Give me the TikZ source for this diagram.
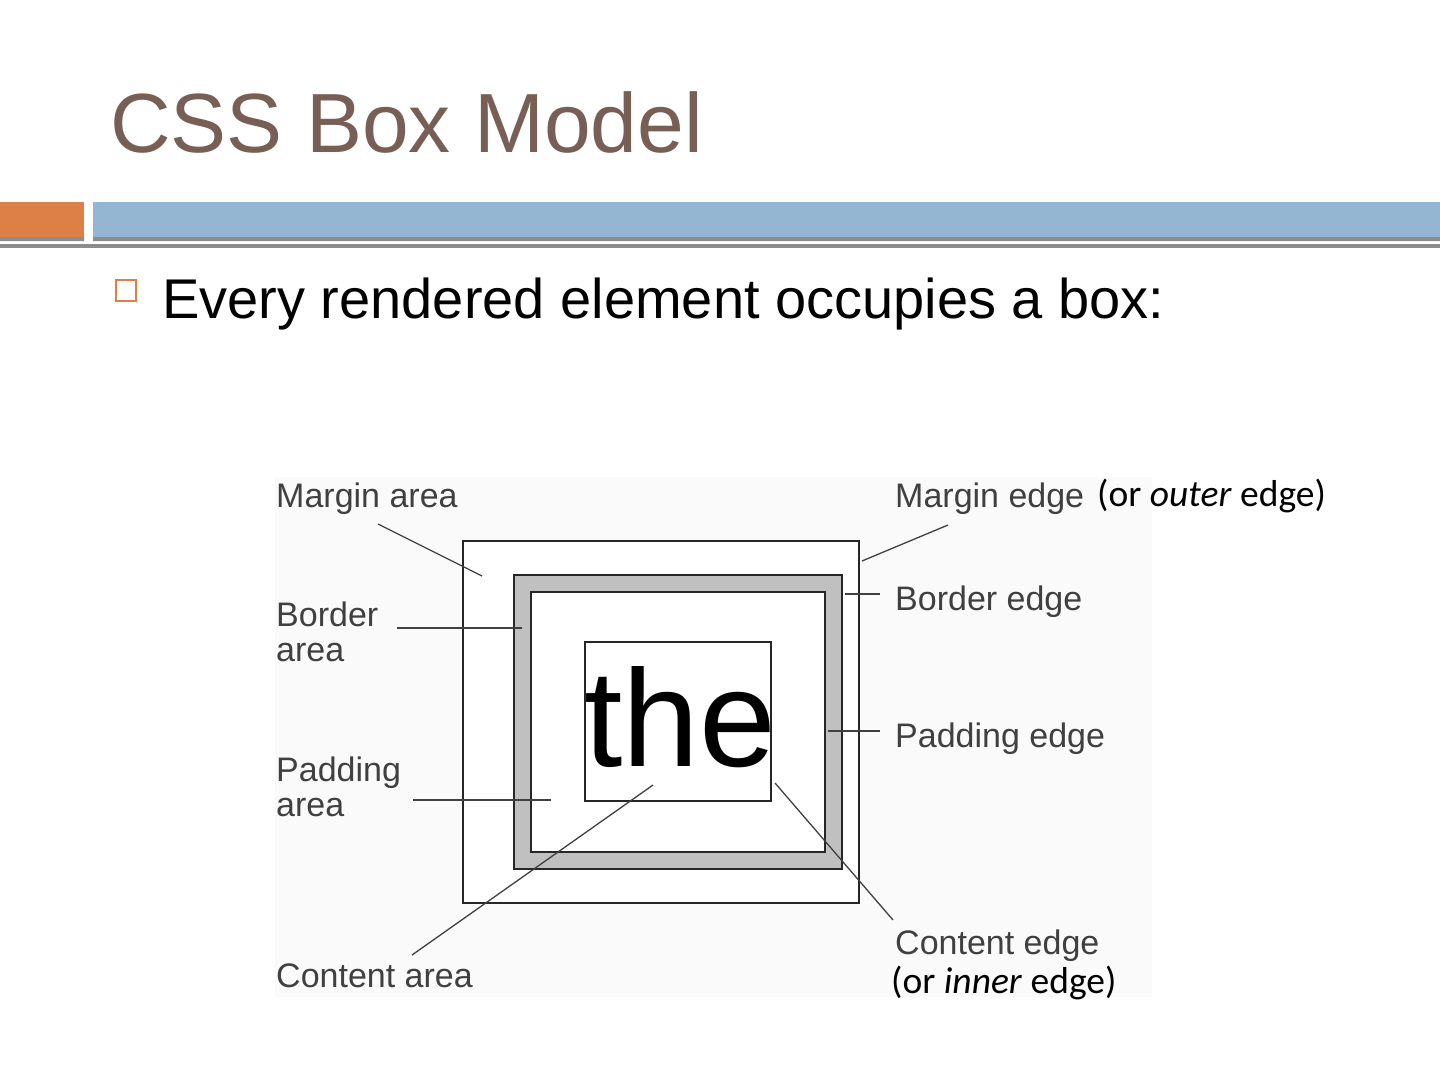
\documentclass[tikz,border=0pt]{standalone}
\usepackage{fontspec}
\setmainfont{Liberation Sans}
\newfontfamily\notefont{Carlito}
\usetikzlibrary{positioning}
\definecolor{slidebrown}{HTML}{775F55}
\definecolor{slideorange}{HTML}{DD8047}
\definecolor{slideblue}{HTML}{94B6D2}
\definecolor{rulegray}{HTML}{8C8C8C}
\definecolor{figgray}{HTML}{C0C0C0}
\tikzset{
  every picture/.style={line join=miter},
  % box outlines of the figure
  boxline/.style={draw=black!85, line width=2pt},
  leader/.style={draw=black!75, line width=1.3pt},
  % labels of the figure (pixel sizes, 1 unit = 1pt); base = last line
  lbl/.style={anchor=base west, inner sep=0pt, text=black!75, align=left,
    font=\fontsize{34}{35}\selectfont},
  note/.style={anchor=base west, inner sep=0pt, font=\notefont\fontsize{37.5}{40}\selectfont},
}

\begin{document}
\begin{tikzpicture}[x=1pt, y=-1pt]
  \useasboundingbox (0,0) rectangle (1440,1080);
  % title and header rules
  \node[anchor=base west, inner sep=0pt, text=slidebrown, font=\fontsize{84}{90}\selectfont]
    (title) at (110,152) {CSS Box Model};
  \fill[slideorange] (0,202) rectangle (84,237);
  \fill[slideblue] (93,202) rectangle (1440,237);
  \fill[rulegray] (0,237) rectangle (84,241) (93,237) rectangle (1440,241);
  \fill[rulegray] (0,244) rectangle (1440,248);
  % bullet line
  \draw[slideorange, line width=1.5pt] (116,280) rectangle (136,301);
  \node[anchor=base west, inner sep=0pt, font=\fontsize{56}{60}\selectfont]
    (bullet) at (162,318) {Every rendered element occupies a box:};
  % the figure
  \fill[black!2] (275,477) rectangle (1152,997);
  \draw[boxline, fill=white] (463,541) rectangle (859,903);   % margin edge
  \draw[boxline, fill=figgray] (514,575) rectangle (842,869); % border edge
  \draw[boxline, fill=white] (531,592) rectangle (825,852);   % padding edge
  \node[anchor=base west, inner sep=0pt, font=\fontsize{138}{140}\selectfont]
    (word) at (584,766) {the};
  \draw[boxline, line width=1.5pt] (585,642) rectangle (771,801); % content edge
  % labels, left and right
  \node[lbl] (marea) at (276,507) {Margin area};
  \node[lbl] (barea) at (276,661) {Border\\area};
  \node[lbl] (parea) at (276,816) {Padding\\area};
  \node[lbl] (carea) at (276,987) {Content area};
  \node[lbl] (medge) at (895,507) {Margin edge};
  \node[lbl] (bedge) at (895,610) {Border edge};
  \node[lbl] (pedge) at (895,747) {Padding edge};
  \node[lbl] (cedge) at (895,954) {Content edge};
  \node[note] (outernote) at (1097,506) {(or \textit{outer} edge)};
  \node[note] (innernote) at (891,993) {(or \textit{inner} edge)};
  % leader lines
  \foreach \n/\p/\q in {marea/{378,524}/{482,576}, barea/{397,628}/{522,628},
                        parea/{413,800}/{551,800}, carea/{412,955}/{653,785},
                        medge/{948,525}/{862,561}, bedge/{880,594}/{845,594},
                        pedge/{880,731}/{828,731}, cedge/{893,920}/{775,783}} {
    \coordinate (\n-a) at (\p);
    \coordinate (\n-b) at (\q);
    \draw[leader] (\n-a) -- (\n-b);
  }
\end{tikzpicture}
\end{document}
